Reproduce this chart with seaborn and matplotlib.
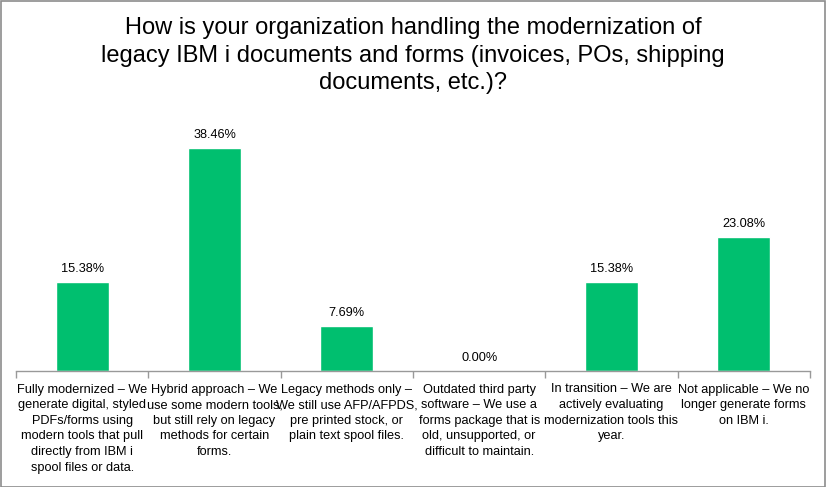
import matplotlib
matplotlib.use("Agg")
import matplotlib.pyplot as plt
import seaborn as sns
import pandas as pd
from matplotlib.patches import Rectangle

categories = [
    "Fully modernized – We\ngenerate digital, styled\nPDFs/forms using\nmodern tools that pull\ndirectly from IBM i\nspool files or data.",
    "Hybrid approach – We\nuse some modern tools,\nbut still rely on legacy\nmethods for certain\nforms.",
    "Legacy methods only –\nWe still use AFP/AFPDS,\npre printed stock, or\nplain text spool files.",
    "Outdated third party\nsoftware – We use a\nforms package that is\nold, unsupported, or\ndifficult to maintain.",
    "In transition – We are\nactively evaluating\nmodernization tools this\nyear.",
    "Not applicable – We no\nlonger generate forms\non IBM i.",
]
values = [15.38, 38.46, 7.69, 0.00, 15.38, 23.08]
value_labels = ["15.38%", "38.46%", "7.69%", "0.00%", "15.38%", "23.08%"]
title = ("How is your organization handling the modernization of\n"
         "legacy IBM i documents and forms (invoices, POs, shipping\n"
         "documents, etc.)?")

sns.set_style("white")
plt.rcParams['font.family'] = ['Liberation Sans', 'DejaVu Sans']

df = pd.DataFrame({"cat": categories, "val": values})

W, H = 826, 487
fig = plt.figure(figsize=(W / 100, H / 100), dpi=100)
ax = fig.add_axes([16 / W, (H - 371) / H, (810 - 16) / W, (371 - 110) / H])

sns.barplot(data=df, x="cat", y="val", color="#00BF6F", width=0.4,
            saturation=1, ax=ax)
ax.set_ylim(0, 45)
ax.set_xlim(-0.5, len(categories) - 0.5)

for i, (v, lab) in enumerate(zip(values, value_labels)):
    ax.annotate(lab, (i, v), xytext=(0, 9.5), textcoords="offset points",
                ha="center", va="center", fontsize=9.2, color="#000000")

# ticks at category boundaries, labels at centres
ax.set_xticks([i - 0.5 for i in range(len(categories) + 1)])
ax.set_xticklabels([])
ax.tick_params(axis="x", which="major", length=5, color="#999999", width=1,
               direction="out", bottom=True)
ax.set_xticks(range(len(categories)), minor=True)
ax.set_xticklabels(categories, minor=True, fontsize=9.2, linespacing=1.4,
                   color="#000000")
ax.tick_params(axis="x", which="minor", length=0, pad=9)
ax.set_yticks([])
ax.set_xlabel("")
ax.set_ylabel("")
for s in ["top", "right", "left"]:
    ax.spines[s].set_visible(False)
ax.spines["bottom"].set_color("#999999")
ax.spines["bottom"].set_linewidth(1)

fig.text(0.5, 1 - 17 / H, title, ha="center", va="top", fontsize=17,
         linespacing=1.33, color="#000000")

fig.patches.append(Rectangle((0.5 / W, 0.5 / H), 1 - 1.5 / W, 1 - 1.5 / H,
                             transform=fig.transFigure, fill=False,
                             edgecolor="#8c8c8c", linewidth=1.2))

fig.savefig("out.png", dpi=100)
